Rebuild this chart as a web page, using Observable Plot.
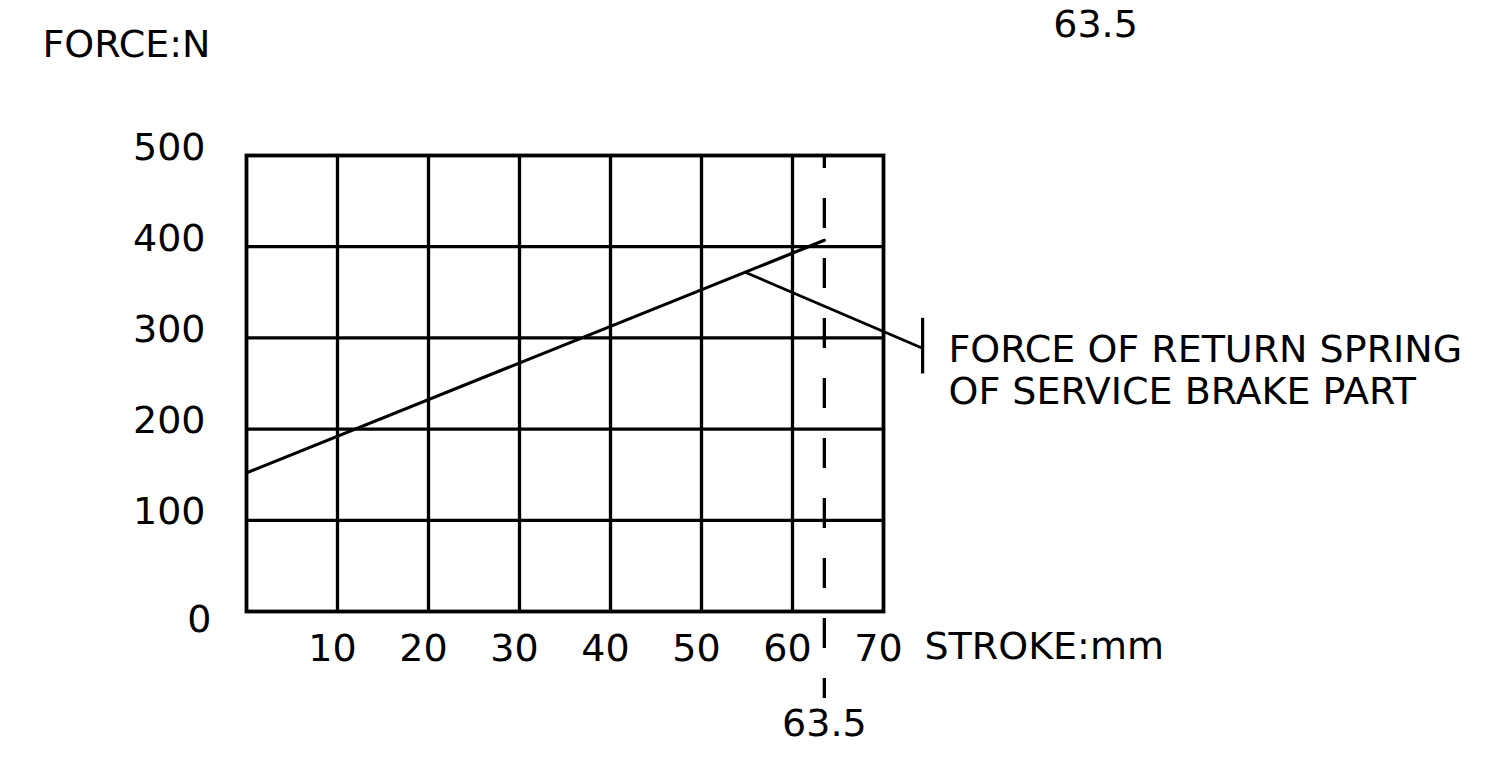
<!DOCTYPE html>
<html>
<head>
<meta charset="utf-8">
<script src="https://cdn.jsdelivr.net/npm/d3@7"></script>
<script src="https://cdn.jsdelivr.net/npm/@observablehq/plot@0.6"></script>
<style>
  html, body { margin: 0; padding: 0; background: white; }
</style>
</head>
<body>
<div id="chart"></div>
<script>
// ---- data ----
const strokeMm = [0, 63.5];          // STROKE (mm)
const forceN = [152, 407];           // FORCE (N), return spring
const xTicks = [10, 20, 30, 40, 50, 60, 70];
const xGrid = [10, 20, 30, 40, 50, 60];
const yTicks = [0, 100, 200, 300, 400, 500];
const yGrid = [100, 200, 300, 400];
const markerStroke = [63.5];
const markerLabel = ["63.5"];
const leaderStroke = [54.8, 74.1];
const leaderForce = [372, 289.5];
const leaderTickStroke = [74.3, 74.3];
const leaderTickForce = [322, 261];
const xLabel = ["STROKE:mm"];
const yLabel = ["FORCE:N"];
const noteLabel = ["FORCE OF RETURN SPRING\nOF SERVICE BRAKE PART"];

const springData = strokeMm.map((s, i) => ({stroke: s, force: forceN[i]}));
const leaderData = leaderStroke.map((s, i) => ({stroke: s, force: leaderForce[i]}));
const leaderTickData = leaderTickStroke.map((s, i) => ({stroke: s, force: leaderTickForce[i]}));

const FONT = "DejaVu Sans";
const FS = 38;

const chart = Plot.plot({
  width: 1495,
  height: 764,
  marginLeft: 246,
  marginRight: 612,
  marginTop: 155,
  marginBottom: 153,
  style: {fontFamily: FONT, fontSize: FS + "px", background: "white", color: "black"},
  x: {domain: [0, 70]},
  y: {domain: [0, 500]},
  marks: [
    Plot.gridX(xGrid, {stroke: "black", strokeOpacity: 1, strokeWidth: 3.3}),
    Plot.gridY(yGrid, {stroke: "black", strokeOpacity: 1, strokeWidth: 3.3}),
    Plot.frame({stroke: "black", strokeWidth: 3.8}),
    Plot.axisX(xTicks, {tickSize: 0, tickPadding: 23, dx: -5, fontSize: FS, label: null}),
    Plot.axisY(yTicks.filter(d => d > 0), {tickSize: 0, tickPadding: 41, dy: -8, fontSize: FS, label: null}),
    Plot.axisY(yTicks.filter(d => d === 0), {tickSize: 0, tickPadding: 35, dy: 8, fontSize: FS, label: null}),
    Plot.line(springData, {x: "stroke", y: "force", stroke: "black", strokeWidth: 3.2}),
    Plot.ruleX(markerStroke, {y1: 500, y2: 0, insetBottom: -87, stroke: "black", strokeWidth: 3.3,
      strokeDasharray: "30 30", strokeDashoffset: 17, strokeLinecap: "butt"}),
    Plot.line(leaderData, {x: "stroke", y: "force", stroke: "black", strokeWidth: 2.8}),
    Plot.line(leaderTickData, {x: "stroke", y: "force", stroke: "black", strokeWidth: 3.2, strokeLinecap: "butt"}),
    Plot.text(yLabel, {text: d => d, frameAnchor: "top-left", dx: -204, dy: -111, textAnchor: "start", lineAnchor: "middle", fontSize: FS}),
    Plot.text(xLabel, {text: d => d, frameAnchor: "bottom-right", dx: 41, dy: 35, textAnchor: "start", lineAnchor: "middle", fontSize: FS}),
    Plot.text(noteLabel, {text: d => d, frameAnchor: "right", dx: 65, dy: -14, textAnchor: "start", lineAnchor: "middle", lineHeight: 1.12, fontSize: FS}),
    Plot.text(markerStroke, {x: d => d, text: (d, i) => markerLabel[i], frameAnchor: "bottom", dy: 112, textAnchor: "middle", lineAnchor: "middle", fontSize: FS}),
    Plot.text(markerLabel, {text: d => d, frameAnchor: "top-right", dx: 212, dy: -131, textAnchor: "middle", lineAnchor: "middle", fontSize: FS})
  ]
});
document.getElementById("chart").append(chart);
</script>
</body>
</html>
